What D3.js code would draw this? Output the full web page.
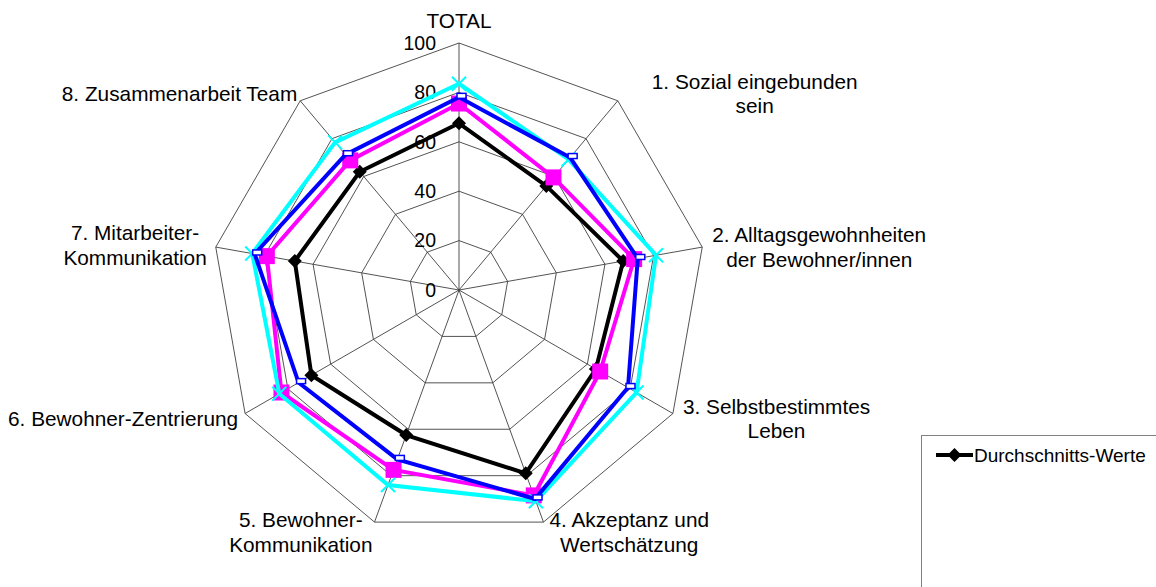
<!DOCTYPE html>
<html>
<head>
<meta charset="utf-8">
<script src="https://cdn.jsdelivr.net/npm/d3@7"></script>
<style>
  body { margin: 0; background: #fff; }
  svg { display: block; font-family: Arial, "Liberation Sans", sans-serif; }
</style>
</head>
<body>
<svg></svg>
<script>
// Kategorien (Achsen) im Uhrzeigersinn ab oben
const categories = [
  'TOTAL',
  '1. Sozial eingebunden\nsein',
  '2. Alltagsgewohnheiten\nder Bewohner/innen',
  '3. Selbstbestimmtes\nLeben',
  '4. Akzeptanz und\nWertschätzung',
  '5. Bewohner-\nKommunikation',
  '6. Bewohner-Zentrierung',
  '7. Mitarbeiter-\nKommunikation',
  '8. Zusammenarbeit Team'
]
const tickValues = [0, 20, 40, 60, 80, 100]

// Werte je Reihe
const seriesNames = ['Durchschnitts-Werte', 'Reihe 2', 'Reihe 3', 'Reihe 4']
const avgValues = [67.5, 55, 67.5, 64, 79, 62.5, 69, 67.5, 62.5]
const magentaValues = [75.5, 59.5, 72, 66, 88.5, 77.5, 83, 79, 68.5]
const cyanValues = [83.5, 69, 81, 83, 91, 84, 84, 85, 78]
const blueValues = [78, 70, 73.5, 79, 90, 73, 75, 84, 71.5]

const width = 1156
const height = 587
const cx = 459
const cy = 290
const radius = 247

let svg = d3.select('svg').attr('width', width).attr('height', height)

const scaleR = d3.scaleLinear().domain([0, 100]).range([0, radius])
const step = 2 * Math.PI / categories.length

// Punkt auf Achse i für Wert v
function pt (i, v) {
  const a = i * step
  return [cx + scaleR(v) * Math.sin(a), cy - scaleR(v) * Math.cos(a)]
}

// Gitternetz (Ringe)
const grid = svg.append('g')
tickValues.slice(1).forEach(t => {
  grid.append('polygon')
    .attr('points', categories.map((c, i) => pt(i, t).join(',')).join(' '))
    .attr('fill', 'none')
    .attr('stroke', '#404040')
    .attr('stroke-width', 0.9)
})
// Speichen
categories.forEach((c, i) => {
  const [x, y] = pt(i, 100)
  grid.append('line')
    .attr('x1', cx).attr('y1', cy).attr('x2', x).attr('y2', y)
    .attr('stroke', '#404040')
    .attr('stroke-width', 0.9)
})

// Achsenbeschriftung 0..100
svg.append('g').selectAll('text')
  .data(tickValues)
  .enter()
  .append('text')
  .attr('x', cx - 23)
  .attr('y', d => cy - scaleR(d))
  .attr('dy', '0.35em')
  .attr('text-anchor', 'end')
  .attr('font-size', 19.5)
  .text(d => d)

// Kategorie-Beschriftungen: [dx, dy, Ausrichtung] relativ zur Spitze der Achse
const labelOffsets = [
  [0, -22, 'middle'],
  [34, -7, 'start'],
  [10, 0, 'start'],
  [10, 5, 'start'],
  [6, 10, 'start'],
  [-2, 10, 'end'],
  [-7, 5, 'end'],
  [-9, -2, 'end'],
  [-3, -7, 'end']
]
const lineH = 24.5
categories.forEach((c, i) => {
  const [vx, vy] = pt(i, 100)
  const [ox, oy, anchor] = labelOffsets[i]
  const lines = c.split('\n')
  const g = svg.append('g')
  const texts = lines.map((l, k) => g.append('text')
    .attr('font-size', 20.8)
    .attr('y', vy + oy + (k - (lines.length - 1) / 2) * lineH)
    .attr('dy', '0.35em')
    .attr('text-anchor', 'middle')
    .text(l))
  // Zeilen im Block zentrieren
  const w = d3.max(texts, t => t.node().getComputedTextLength())
  let centerX = vx + ox
  if (anchor === 'start') centerX = vx + ox + w / 2
  if (anchor === 'end') centerX = vx + ox - w / 2
  texts.forEach(t => t.attr('x', centerX))
})

// Reihen
const series = [
  { name: seriesNames[0], values: avgValues, color: '#000000', marker: 'diamond' },
  { name: seriesNames[1], values: magentaValues, color: '#FF00FF', marker: 'square' },
  { name: seriesNames[3], values: cyanValues, color: '#00FFFF', marker: 'x' },
  { name: seriesNames[2], values: blueValues, color: '#0000FF', marker: 'rect' }
]

const line = d3.line().curve(d3.curveLinearClosed)

function drawMarker (g, type, color, x, y) {
  if (type === 'diamond') {
    g.append('path')
      .attr('d', `M${x},${y - 7}L${x + 7},${y}L${x},${y + 7}L${x - 7},${y}Z`)
      .attr('fill', color)
  } else if (type === 'square') {
    g.append('rect')
      .attr('x', x - 8).attr('y', y - 8).attr('width', 16).attr('height', 16)
      .attr('fill', color)
  } else if (type === 'rect') {
    g.append('rect')
      .attr('x', x - 2).attr('y', y - 4).attr('width', 9).attr('height', 5)
      .attr('fill', '#fff').attr('stroke', color).attr('stroke-width', 1.5)
  } else if (type === 'x') {
    g.append('path')
      .attr('d', `M${x - 7},${y - 7}L${x + 7},${y + 7}M${x + 7},${y - 7}L${x - 7},${y + 7}`)
      .attr('stroke', color).attr('stroke-width', 2)
  }
}

series.forEach(s => {
  const g = svg.append('g')
  g.append('path')
    .attr('d', line(s.values.map((v, i) => pt(i, v))))
    .attr('fill', 'none')
    .attr('stroke', s.color)
    .attr('stroke-width', 4)
    .attr('stroke-linejoin', 'miter')
  s.values.forEach((v, i) => {
    const [x, y] = pt(i, v)
    drawMarker(g, s.marker, s.color, x, y)
  })
})

// Legende (nur erster Eintrag sichtbar)
const legend = svg.append('g')
legend.append('rect')
  .attr('x', 921.5).attr('y', 435.5)
  .attr('width', 260).attr('height', 200)
  .attr('fill', '#fff').attr('stroke', '#808080').attr('stroke-width', 1)
series.slice(0, 1).forEach((s, k) => {
  const y = 455 + k * 150
  legend.append('line')
    .attr('x1', 936).attr('x2', 973).attr('y1', y).attr('y2', y)
    .attr('stroke', s.color).attr('stroke-width', 4)
  drawMarker(legend, s.marker, s.color, 954.5, y)
  legend.append('text')
    .attr('x', 974).attr('y', y).attr('dy', '0.35em')
    .attr('font-size', 19)
    .text(s.name)
})
</script>
</body>
</html>
